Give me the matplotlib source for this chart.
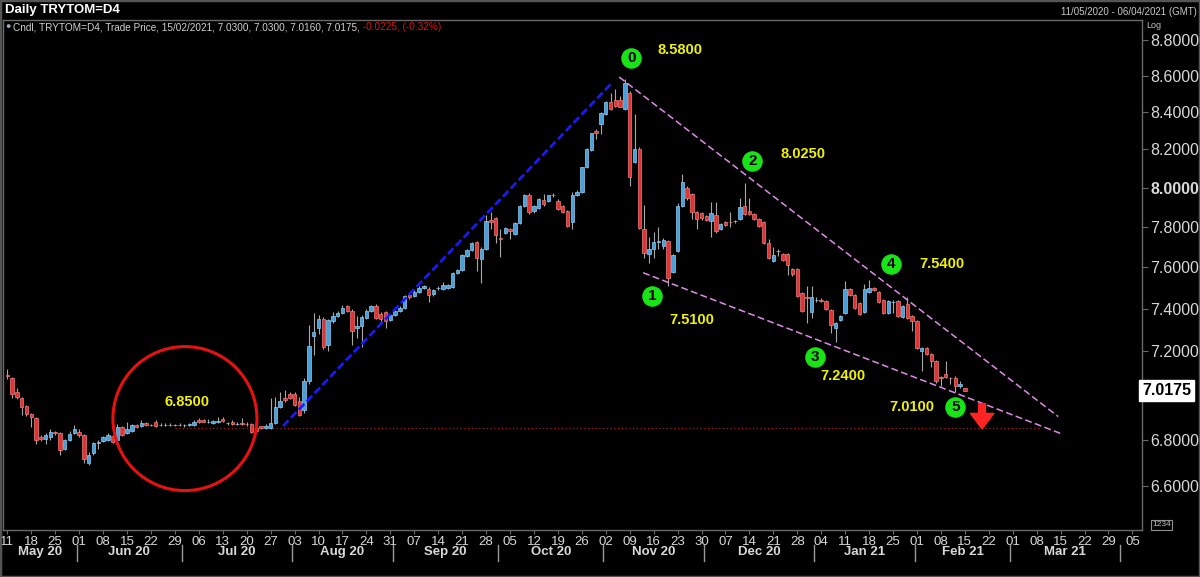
import numpy as np
import pandas as pd
import matplotlib
matplotlib.use('Agg')
import matplotlib.pyplot as plt
import matplotlib.transforms as mtransforms
from matplotlib.patches import Circle, Rectangle

plt.rcParams['font.family'] = ['Liberation Sans', 'DejaVu Sans']

# daily candles TRYTOM=D4, 11/05/2020 .. 15/02/2021 (one per weekday)
opens = [
    7.090, 7.075, 7.010, 6.985, 6.950, 6.915, 6.895, 6.810, 6.803, 6.810,
    6.832, 6.830, 6.760, 6.800, 6.830, 6.835, 6.820, 6.700, 6.740, 6.785,
    6.795, 6.800, 6.815, 6.800, 6.855, 6.830, 6.840, 6.865, 6.860, 6.875,
    6.865, 6.880, 6.866, 6.864, 6.866, 6.864, 6.865, 6.863, 6.866, 6.865,
    6.885, 6.888, 6.878, 6.872, 6.880, 6.892, 6.872, 6.880, 6.870, 6.872,
    6.870, 6.870, 6.850, 6.858, 6.850, 6.850, 6.875, 6.945, 6.985, 7.005,
    7.005, 6.970, 6.930, 7.060, 7.270, 7.310, 7.350, 7.230, 7.340, 7.365,
    7.380, 7.410, 7.390, 7.310, 7.318, 7.355, 7.390, 7.410, 7.375, 7.385,
    7.345, 7.370, 7.390, 7.405, 7.465, 7.460, 7.480, 7.500, 7.495, 7.470,
    7.497, 7.495, 7.500, 7.505, 7.570, 7.585, 7.655, 7.685, 7.725, 7.640,
    7.690, 7.835, 7.845, 7.745, 7.770, 7.790, 7.765, 7.820, 7.905, 7.965,
    7.880, 7.895, 7.935, 7.930, 7.965, 7.930, 7.905, 7.880, 7.825, 7.960,
    7.980, 8.105, 8.195, 8.300, 8.335, 8.390, 8.455, 8.465, 8.465, 8.415,
    8.505, 8.135, 8.200, 7.790, 7.665, 7.690, 7.725, 7.705, 7.730, 7.575,
    7.680, 7.905, 8.000, 7.970, 7.875, 7.870, 7.855, 7.830, 7.860, 7.790,
    7.825, 7.825, 7.828, 7.840, 7.905, 7.880, 7.865, 7.840, 7.825, 7.720,
    7.630, 7.680, 7.665, 7.665, 7.590, 7.590, 7.475, 7.455, 7.385, 7.440,
    7.440, 7.435, 7.395, 7.310, 7.345, 7.380, 7.495, 7.465, 7.425, 7.385,
    7.480, 7.500, 7.480, 7.440, 7.380, 7.430, 7.435, 7.360, 7.420, 7.365,
    7.340, 7.200, 7.215, 7.185, 7.155, 7.080, 7.093, 7.078, 7.078, 7.040,
    7.030,
]
highs = [
    7.115, 7.080, 7.030, 6.990, 6.955, 6.920, 6.900, 6.820, 6.830, 6.845,
    6.840, 6.835, 6.805, 6.840, 6.865, 6.845, 6.825, 6.745, 6.790, 6.800,
    6.815, 6.830, 6.820, 6.870, 6.860, 6.880, 6.870, 6.870, 6.885, 6.880,
    6.870, 6.885, 6.875, 6.872, 6.874, 6.870, 6.872, 6.870, 6.872, 6.885,
    6.895, 6.893, 6.890, 6.888, 6.900, 6.898, 6.880, 6.886, 6.876, 6.895,
    6.876, 6.875, 6.856, 6.862, 6.868, 6.985, 6.990, 7.010, 7.020, 7.010,
    7.010, 6.990, 7.075, 7.320, 7.380, 7.370, 7.360, 7.350, 7.385, 7.390,
    7.415, 7.415, 7.400, 7.365, 7.370, 7.400, 7.415, 7.420, 7.385, 7.390,
    7.375, 7.395, 7.410, 7.465, 7.470, 7.490, 7.510, 7.515, 7.505, 7.495,
    7.510, 7.530, 7.520, 7.575, 7.590, 7.665, 7.690, 7.725, 7.730, 7.700,
    7.860, 7.875, 7.850, 7.790, 7.800, 7.795, 7.825, 7.910, 7.970, 7.975,
    7.910, 7.945, 7.970, 7.965, 7.975, 7.940, 7.910, 7.885, 7.980, 7.990,
    8.110, 8.205, 8.290, 8.310, 8.400, 8.460, 8.505, 8.525, 8.490, 8.580,
    8.515, 8.390, 8.215, 7.910, 7.750, 7.775, 7.800, 7.745, 7.735, 7.665,
    7.920, 8.070, 8.010, 7.975, 7.880, 7.875, 7.860, 7.925, 7.925, 7.820,
    7.830, 7.875, 7.835, 7.945, 8.025, 7.945, 7.870, 7.845, 7.830, 7.740,
    7.700, 7.690, 7.670, 7.670, 7.595, 7.595, 7.480, 7.510, 7.510, 7.455,
    7.450, 7.440, 7.400, 7.335, 7.370, 7.535, 7.500, 7.470, 7.430, 7.520,
    7.540, 7.505, 7.485, 7.445, 7.440, 7.440, 7.440, 7.415, 7.455, 7.370,
    7.345, 7.220, 7.220, 7.190, 7.160, 7.085, 7.155, 7.080, 7.085, 7.060,
    7.030,
]
lows = [
    7.070, 6.985, 6.980, 6.910, 6.905, 6.855, 6.780, 6.795, 6.780, 6.800,
    6.820, 6.735, 6.755, 6.795, 6.825, 6.810, 6.700, 6.690, 6.735, 6.760,
    6.790, 6.795, 6.785, 6.795, 6.815, 6.825, 6.835, 6.850, 6.855, 6.860,
    6.860, 6.855, 6.860, 6.858, 6.860, 6.858, 6.860, 6.857, 6.860, 6.862,
    6.872, 6.876, 6.872, 6.870, 6.874, 6.878, 6.866, 6.866, 6.864, 6.866,
    6.862, 6.830, 6.836, 6.846, 6.846, 6.845, 6.870, 6.940, 6.965, 6.980,
    6.950, 6.905, 6.920, 7.050, 7.180, 7.280, 7.210, 7.200, 7.330, 7.360,
    7.375, 7.385, 7.230, 7.260, 7.220, 7.350, 7.385, 7.350, 7.330, 7.310,
    7.340, 7.365, 7.385, 7.400, 7.445, 7.455, 7.475, 7.495, 7.430, 7.460,
    7.490, 7.490, 7.495, 7.500, 7.565, 7.580, 7.650, 7.680, 7.580, 7.525,
    7.685, 7.790, 7.720, 7.650, 7.765, 7.740, 7.760, 7.815, 7.900, 7.865,
    7.870, 7.890, 7.905, 7.925, 7.950, 7.885, 7.870, 7.800, 7.790, 7.955,
    7.975, 8.100, 8.190, 8.255, 8.280, 8.385, 8.410, 8.430, 8.425, 8.410,
    8.010, 8.130, 7.790, 7.645, 7.620, 7.645, 7.690, 7.690, 7.510, 7.570,
    7.675, 7.900, 7.935, 7.840, 7.790, 7.835, 7.830, 7.750, 7.770, 7.785,
    7.805, 7.800, 7.820, 7.835, 7.860, 7.860, 7.835, 7.800, 7.715, 7.640,
    7.625, 7.655, 7.630, 7.560, 7.555, 7.455, 7.385, 7.330, 7.355, 7.430,
    7.430, 7.395, 7.285, 7.240, 7.340, 7.375, 7.460, 7.400, 7.370, 7.380,
    7.475, 7.485, 7.425, 7.375, 7.375, 7.380, 7.360, 7.355, 7.350, 7.295,
    7.210, 7.110, 7.180, 7.125, 7.055, 7.040, 7.075, 7.050, 7.010, 7.030,
    7.016,
]
closes = [
    7.085, 7.005, 6.990, 6.945, 6.915, 6.900, 6.800, 6.805, 6.820, 6.835,
    6.830, 6.755, 6.800, 6.825, 6.845, 6.820, 6.715, 6.735, 6.785, 6.790,
    6.810, 6.820, 6.790, 6.855, 6.820, 6.845, 6.865, 6.855, 6.875, 6.865,
    6.863, 6.860, 6.865, 6.866, 6.864, 6.865, 6.863, 6.866, 6.868, 6.880,
    6.876, 6.880, 6.879, 6.884, 6.881, 6.882, 6.873, 6.870, 6.871, 6.870,
    6.868, 6.835, 6.840, 6.850, 6.862, 6.875, 6.945, 6.970, 6.975, 6.985,
    6.955, 6.910, 7.060, 7.225, 7.290, 7.350, 7.220, 7.345, 7.365, 7.380,
    7.405, 7.390, 7.295, 7.315, 7.360, 7.390, 7.410, 7.355, 7.350, 7.340,
    7.370, 7.390, 7.405, 7.460, 7.455, 7.480, 7.500, 7.510, 7.465, 7.490,
    7.500, 7.512, 7.515, 7.570, 7.585, 7.660, 7.685, 7.720, 7.645, 7.690,
    7.830, 7.825, 7.760, 7.742, 7.795, 7.780, 7.820, 7.905, 7.965, 7.875,
    7.905, 7.940, 7.915, 7.960, 7.960, 7.890, 7.875, 7.805, 7.960, 7.980,
    8.105, 8.200, 8.285, 8.290, 8.395, 8.455, 8.415, 8.435, 8.430, 8.560,
    8.055, 8.200, 7.795, 7.670, 7.690, 7.725, 7.728, 7.735, 7.545, 7.660,
    7.905, 8.030, 7.945, 7.875, 7.840, 7.845, 7.835, 7.870, 7.780, 7.815,
    7.810, 7.823, 7.830, 7.900, 7.865, 7.865, 7.840, 7.805, 7.720, 7.645,
    7.660, 7.682, 7.635, 7.610, 7.565, 7.460, 7.390, 7.452, 7.455, 7.440,
    7.438, 7.400, 7.320, 7.330, 7.365, 7.495, 7.465, 7.405, 7.375, 7.495,
    7.500, 7.490, 7.430, 7.380, 7.435, 7.433, 7.365, 7.410, 7.355, 7.340,
    7.215, 7.215, 7.185, 7.155, 7.060, 7.078, 7.080, 7.076, 7.040, 7.050,
    7.0175,
]

price_ticks = [8.8, 8.6, 8.4, 8.2, 8.0, 7.8, 7.6, 7.4, 7.2, 6.8, 6.6]
last_price = 7.0175
support_level = 6.85

# elliott wave points (candle index, price) and their level labels
wave_names = ['0', '1', '2', '3', '4', '5']
wave_x = [130.3, 134.7, 155.6, 168.7, 184.6, 198.0]
wave_y = [8.698, 7.459, 8.139, 7.174, 7.616, 6.943]
level_text = ['8.5800', '7.5100', '8.0250', '7.2400', '7.5400', '7.0100']
level_x = [140.5, 143.0, 166.2, 174.6, 195.3, 189.0]
level_y = [8.744, 7.346, 8.176, 7.083, 7.616, 6.943]

# trend lines (index, price)
rally_line = ([57.6, 126.3], [6.86, 8.56])
upper_wedge = ([127.8, 219.5], [8.592, 6.902])
lower_wedge = ([132.8, 219.9], [7.573, 6.828])

# calendar of the x axis (every weekday, through early April)
dates = pd.bdate_range('2020-05-11', '2021-04-09')
monday_idx = [k for k, d in enumerate(dates) if d.dayofweek == 0]
day_labels = [dates[k].strftime('%d') for k in monday_idx]
month_bounds = [k for k in range(1, len(dates)) if dates[k].month != dates[k - 1].month]

BG = 'black'
UP, UP_EDGE = '#4a9fd8', '#8cccf2'
DOWN, DOWN_EDGE = '#e03434', '#f07c7c'
WICK = '#a8a8a8'
TXT = '#d8d8d8'
FRAME = '#6a6a6a'
YELLOW = '#f2f200'
GREEN = '#18e418'

W, H = 1200, 577
fig = plt.figure(figsize=(12, 5.77), dpi=100, facecolor=BG)
ax = fig.add_axes([3 / W, 47 / H, 1139 / W, 510 / H], facecolor=BG)
ax.set_yscale('log')
ax.set_xlim(-0.9, 237.0)
ax.set_ylim(6.415, 8.914)

o = np.array(opens)
h = np.array(highs)
l = np.array(lows)
c = np.array(closes)
x = np.arange(len(c))
up = c >= o
lo_body = np.minimum(o, c)
hi_body = np.maximum(o, c)

ax.vlines(x, l, h, color=WICK, lw=0.8, zorder=2)
ax.bar(x[up], (hi_body - lo_body)[up], bottom=lo_body[up], width=0.72,
       color=UP, edgecolor=UP_EDGE, lw=0.5, zorder=3)
ax.bar(x[~up], (hi_body - lo_body)[~up], bottom=lo_body[~up], width=0.72,
       color=DOWN, edgecolor=DOWN_EDGE, lw=0.5, zorder=3)

# 6.85 support
ax.hlines(support_level, 35, 215.5, color='#b01818', lw=0.9, linestyles=(0, (1, 2)), zorder=1)

# trend lines
ax.plot(*rally_line, color='#1a1aff', lw=1.9, dashes=(3, 1.3), zorder=4)
ax.plot(*upper_wedge, color='#e28ae8', lw=1.1, dashes=(4.5, 2.2), zorder=4)
ax.plot(*lower_wedge, color='#e28ae8', lw=1.1, dashes=(4.5, 2.2), zorder=4)

# wave markers
ax.scatter(wave_x, wave_y, s=190, color=GREEN, zorder=6)
for name, wx, wy in zip(wave_names, wave_x, wave_y):
    ax.text(wx, wy, name, ha='center', va='center', color='black', fontsize=11,
            fontweight='bold', zorder=7)
for txt, lx, ly in zip(level_text, level_x, level_y):
    ax.text(lx, ly, txt, ha='center', va='center', color=YELLOW, fontsize=10.5,
            fontweight='bold', zorder=7)
ax.text(37.5, 6.965, '6.8500', ha='center', va='center', color=YELLOW, fontsize=10.5,
        fontweight='bold', zorder=7)

# red circle round the flat range
cx, cy = ax.transData.transform((37.1, 6.893))
ax.add_patch(Circle((cx, cy), 72, transform=mtransforms.IdentityTransform(),
                    fill=False, ec='#e81010', lw=2.2, zorder=5))

# down arrow
ax.annotate('', xy=(203.6, 6.847), xytext=(203.6, 6.960),
            arrowprops=dict(arrowstyle='simple,head_width=1.2,head_length=0.8,tail_width=0.35',
                            color='#ff2424', mutation_scale=14, shrinkA=0, shrinkB=0), zorder=7)

# y axis on the right
ax.yaxis.tick_right()
ax.set_yticks(price_ticks, ['%.4f' % p for p in price_ticks])
ax.yaxis.set_minor_locator(matplotlib.ticker.NullLocator())
ax.tick_params(axis='y', colors=TXT, labelsize=11.5, length=4, width=0.8, pad=2)
for lab in ax.get_yticklabels():
    if lab.get_text() == '8.0000':
        lab.set_fontweight('bold')
ax.tick_params(axis='y', color=FRAME)

ytrans = mtransforms.blended_transform_factory(ax.transAxes, ax.transData)
ax.text(1.0, last_price, '%.4f' % last_price, transform=ytrans, ha='left', va='center',
        fontsize=11.5, fontweight='bold', color='black',
        bbox=dict(boxstyle='square,pad=0.18', fc='white', ec='white'))

# x axis: mondays + month bands
ax.set_xticks(monday_idx, day_labels)
ax.tick_params(axis='x', colors=TXT, labelsize=9.5, length=3, width=0.8, pad=1.5)
ax.tick_params(axis='x', color=FRAME)
xtrans = mtransforms.blended_transform_factory(ax.transData, ax.transAxes)
edges = [-0.9] + [b - 0.5 for b in month_bounds]
for b in edges[1:]:
    ax.plot([b, b], [-0.029, -0.061], color='#9a9a9a', lw=1, transform=xtrans, clip_on=False)
for k in range(len(edges) - 1):
    mid = (edges[k] + edges[k + 1]) / 2
    name = dates[month_bounds[k] - 1].strftime('%b %y')
    ax.text(mid, -0.043, name, transform=xtrans, ha='center', va='center', color=TXT,
            fontsize=9.5, fontweight='bold')

for sp in ax.spines.values():
    sp.set_color(FRAME)
    sp.set_linewidth(1)

# header and info line
fig.text(5 / W, 1 - 10 / H, 'Daily TRYTOM=D4', color='white', fontsize=9.5,
         fontweight='bold', va='center')
fig.text(1197 / W, 1 - 12 / H, '11/05/2020 - 06/04/2021 (GMT)', color='#c8c8c8',
         fontsize=7, ha='right', va='center')
fig.text(8 / W, 1 - 27 / H, '\u25cf', color='#9ab0c8', fontsize=6.5, ha='center', va='center')
info = fig.text(13 / W, 1 - 27 / H,
                'Cndl, TRYTOM=D4, Trade Price, 15/02/2021, 7.0300, 7.0300, 7.0160, 7.0175,',
                color='#d0d0d0', fontsize=7.2, va='center')
ax.annotate(' -0.0225, (-0.32%)', xy=(1, 0.5), xycoords=info, va='center', ha='left',
            color='#e01010', fontsize=7.2, annotation_clip=False)
fig.text(1146 / W, 1 - 26 / H, 'Log', color='#c0c0c0', fontsize=6.5, va='center')
fig.text(1152 / W, 1 - 525 / H, '1234', color='#c0c0c0', fontsize=6, va='center',
         bbox=dict(boxstyle='square,pad=0.15', fc=BG, ec='#909090', lw=0.8))

fig.add_artist(Rectangle((0, 0), 1, 1, transform=fig.transFigure, fill=False,
                         ec='#555555', lw=2.5))

fig.savefig('out.png', dpi=100, facecolor=BG)
